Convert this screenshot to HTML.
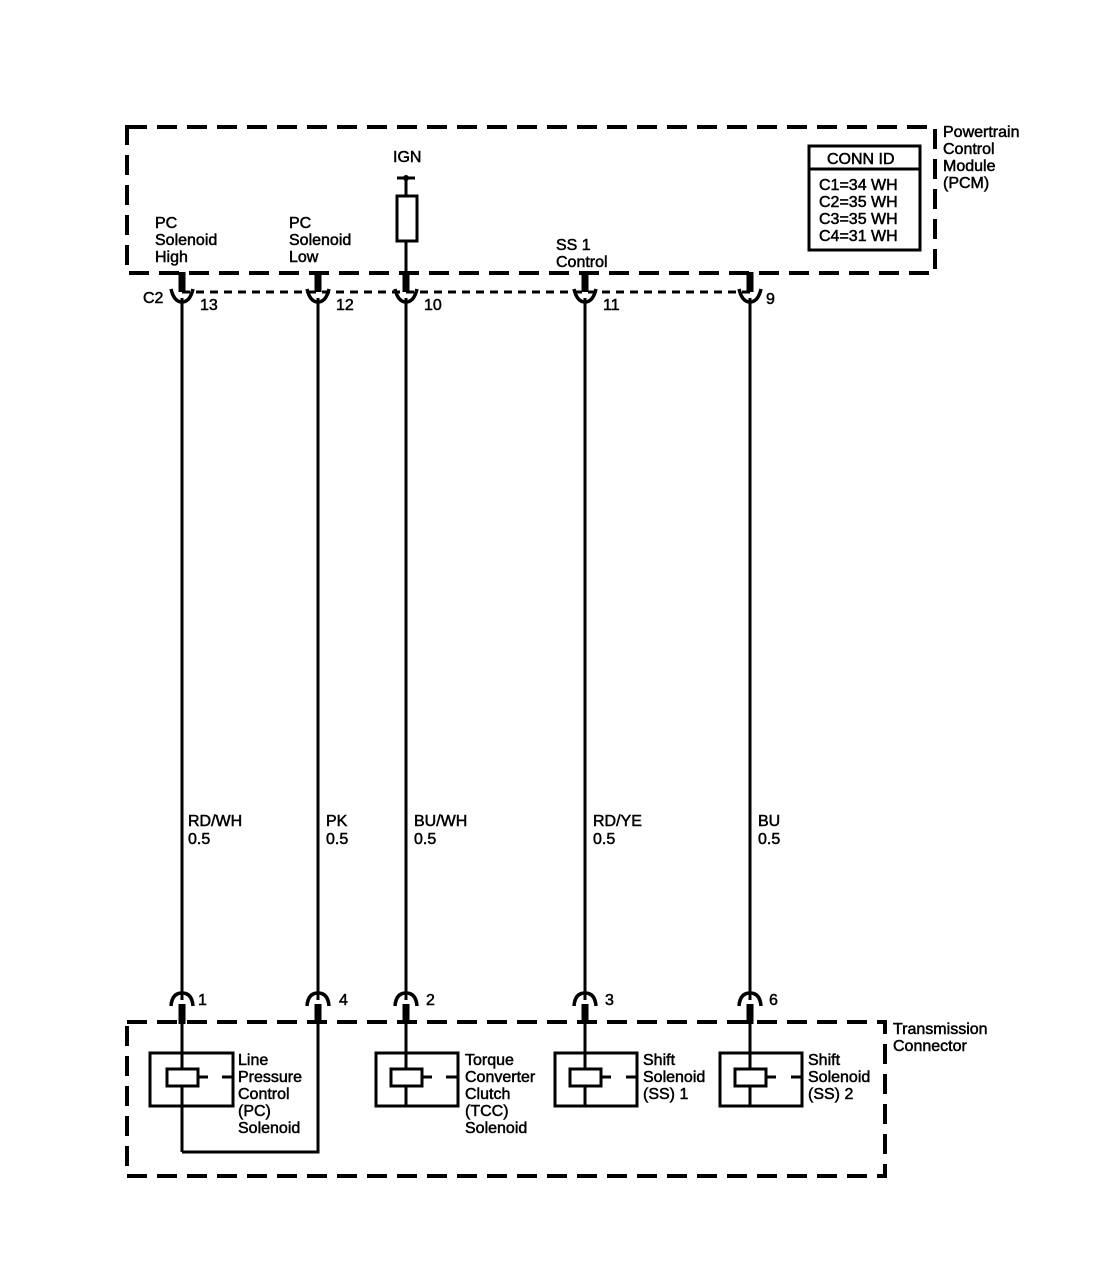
<!DOCTYPE html>
<html><head><meta charset="utf-8"><style>
body{margin:0;background:#fff}
text{font-family:"Liberation Sans",sans-serif;font-size:16px;fill:#000;stroke:#000;stroke-width:0.5}
</style></head><body>
<svg width="1108" height="1264" viewBox="0 0 1108 1264" xmlns="http://www.w3.org/2000/svg">
<g fill="none" stroke="#000">
<rect x="127" y="127" width="808" height="146" stroke-width="4" stroke-dasharray="20,10"/>
<rect x="127" y="1022" width="758" height="154" stroke-width="4" stroke-dasharray="20,10"/>
<line x1="182" y1="292" x2="750" y2="292" stroke-width="3" stroke-dasharray="8,6"/>
<rect x="809" y="146" width="111" height="104" stroke-width="3"/>
<line x1="809" y1="169" x2="920" y2="169" stroke-width="3"/>
<line x1="397" y1="178" x2="415" y2="178" stroke-width="3"/>
<line x1="406" y1="178" x2="406" y2="290" stroke-width="3"/>
<rect x="397" y="196" width="20" height="45" stroke-width="3" fill="#fff"/>
</g>
<circle cx="406" cy="178" r="3"/>
<g stroke="#000" fill="none">
<g stroke-width="3">
<line x1="182" y1="298" x2="182" y2="1000"/>
<line x1="318" y1="298" x2="318" y2="1000"/>
<line x1="406" y1="298" x2="406" y2="1000"/>
<line x1="585" y1="298" x2="585" y2="1000"/>
<line x1="750" y1="298" x2="750" y2="1000"/>
</g>
<g stroke-width="7">
<line x1="182" y1="272" x2="182" y2="292"/><line x1="318" y1="272" x2="318" y2="292"/><line x1="406" y1="272" x2="406" y2="292"/><line x1="585" y1="272" x2="585" y2="292"/><line x1="750" y1="272" x2="750" y2="292"/>
</g>
<g stroke-width="3.5">
<path d="M171 289 Q174 302 182 302 Q190 302 193 289"/><path d="M307 289 Q310 302 318 302 Q326 302 329 289"/><path d="M395 289 Q398 302 406 302 Q414 302 417 289"/><path d="M574 289 Q577 302 585 302 Q593 302 596 289"/><path d="M739 289 Q742 302 750 302 Q758 302 761 289"/>
<path d="M171 1006 Q172 993 182 993 Q192 993 193 1006"/><path d="M307 1006 Q308 993 318 993 Q328 993 329 1006"/><path d="M395 1006 Q396 993 406 993 Q416 993 417 1006"/><path d="M574 1006 Q575 993 585 993 Q595 993 596 1006"/><path d="M739 1006 Q740 993 750 993 Q760 993 761 1006"/>
</g>
<g stroke-width="7">
<line x1="182" y1="1004" x2="182" y2="1024"/><line x1="318" y1="1004" x2="318" y2="1024"/><line x1="406" y1="1004" x2="406" y2="1024"/><line x1="585" y1="1004" x2="585" y2="1024"/><line x1="750" y1="1004" x2="750" y2="1024"/>
</g>
<g stroke-width="3">
<line x1="182" y1="1022" x2="182" y2="1152"/><polyline points="182,1152 318,1152 318,1022"/>
<line x1="406" y1="1022" x2="406" y2="1106"/><line x1="585" y1="1022" x2="585" y2="1106"/><line x1="750" y1="1022" x2="750" y2="1106"/>
<rect x="150" y="1053" width="83" height="53"/><rect x="376" y="1053" width="82" height="53"/><rect x="555" y="1053" width="82" height="53"/><rect x="720" y="1053" width="82" height="53"/>
<rect x="167" y="1069" width="31" height="17" fill="#fff"/><rect x="391" y="1069" width="31" height="17" fill="#fff"/><rect x="570" y="1069" width="31" height="17" fill="#fff"/><rect x="735" y="1069" width="31" height="17" fill="#fff"/>
<line x1="198" y1="1077" x2="208" y2="1077"/><line x1="222" y1="1077" x2="233" y2="1077"/>
<line x1="422" y1="1077" x2="432" y2="1077"/><line x1="446" y1="1077" x2="458" y2="1077"/>
<line x1="601" y1="1077" x2="611" y2="1077"/><line x1="626" y1="1077" x2="637" y2="1077"/>
<line x1="766" y1="1077" x2="776" y2="1077"/><line x1="791" y1="1077" x2="802" y2="1077"/>
</g>
</g>
<text x="943" y="137">Powertrain</text><text x="943" y="154">Control</text><text x="943" y="171">Module</text><text x="943" y="188">(PCM)</text>
<text x="827" y="164">CONN ID</text>
<text x="819" y="190">C1=34 WH</text><text x="819" y="207">C2=35 WH</text><text x="819" y="224">C3=35 WH</text><text x="819" y="241">C4=31 WH</text>
<text x="393" y="162">IGN</text>
<text x="155" y="228">PC</text><text x="155" y="245">Solenoid</text><text x="155" y="262">High</text>
<text x="289" y="228">PC</text><text x="289" y="245">Solenoid</text><text x="289" y="262">Low</text>
<text x="556" y="250">SS 1</text><text x="556" y="267">Control</text>
<text x="143" y="303">C2</text><text x="200" y="310">13</text><text x="336" y="310">12</text><text x="424" y="310">10</text><text x="603" y="310">11</text><text x="766" y="304">9</text>
<text x="188" y="826">RD/WH</text><text x="188" y="844">0.5</text>
<text x="326" y="826">PK</text><text x="326" y="844">0.5</text>
<text x="414" y="826">BU/WH</text><text x="414" y="844">0.5</text>
<text x="593" y="826">RD/YE</text><text x="593" y="844">0.5</text>
<text x="758" y="826">BU</text><text x="758" y="844">0.5</text>
<text x="198" y="1005">1</text><text x="339" y="1005">4</text><text x="426" y="1005">2</text><text x="605" y="1005">3</text><text x="769" y="1005">6</text>
<text x="893" y="1034">Transmission</text><text x="893" y="1051">Connector</text>
<text x="238" y="1065">Line</text><text x="238" y="1082">Pressure</text><text x="238" y="1099">Control</text><text x="238" y="1116">(PC)</text><text x="238" y="1133">Solenoid</text>
<text x="465" y="1065">Torque</text><text x="465" y="1082">Converter</text><text x="465" y="1099">Clutch</text><text x="465" y="1116">(TCC)</text><text x="465" y="1133">Solenoid</text>
<text x="643" y="1065">Shift</text><text x="643" y="1082">Solenoid</text><text x="643" y="1099">(SS) 1</text>
<text x="808" y="1065">Shift</text><text x="808" y="1082">Solenoid</text><text x="808" y="1099">(SS) 2</text>
</svg>
</body></html>
